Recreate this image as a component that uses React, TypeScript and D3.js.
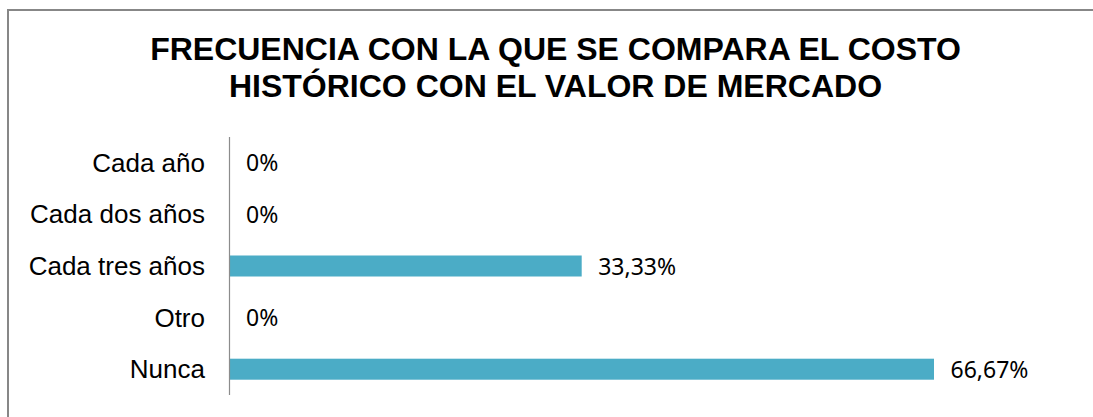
import React from 'react';
import * as d3 from 'd3';

const categories = ['Cada año', 'Cada dos años', 'Cada tres años', 'Otro', 'Nunca'];
const values = [0, 0, 33.33, 0, 66.67];
const valueLabels = ['0%', '0%', '33,33%', '0%', '66,67%'];
const titleLines = ['FRECUENCIA CON LA QUE SE COMPARA EL COSTO', 'HISTÓRICO CON EL VALOR DE MERCADO'];

const width = 1093;
const height = 417;

export default function App() {
    const x = d3.scaleLinear().domain([0, 66.67]).range([229.5, 934]);
    const y = d3.scaleBand<string>()
        .domain(categories)
        .range([137, 395])
        .paddingInner(0.59)
        .paddingOuter(0.295);

    return (
        <svg width={width} height={height} style={{ position: 'absolute', left: 0, top: 0, background: '#fff' }}>
            {/* chart frame, only top and left edges are visible */}
            <rect x={8} y={10} width={1200} height={600} fill="#fff" stroke="#878787" strokeWidth={2} />

            {titleLines.map((t, i) => (
                <text key={t} x={555.5} y={60 + i * 37} textAnchor="middle"
                    fontFamily="'Liberation Sans', Arial, sans-serif" fontWeight="bold" fontSize={32} fill="#000">
                    {t}
                </text>
            ))}

            {values.map((v, i) => (
                <rect key={categories[i]} x={x(0)} y={y(categories[i])! + (y.bandwidth() - 21) / 2}
                    width={x(v) - x(0)} height={21} fill="#4BACC6" />
            ))}

            <line x1={229.5} x2={229.5} y1={137} y2={395} stroke="#8c8c8c" strokeWidth={1.2} />

            {categories.map(c => (
                <text key={c} x={205} y={y(c)! + y.bandwidth() / 2 + 9} textAnchor="end"
                    fontFamily="'Liberation Sans', Arial, sans-serif" fontSize={26} fill="#000">
                    {c}
                </text>
            ))}

            {values.map((v, i) => (
                <text key={'l' + i} x={x(v) + 16.5} y={y(categories[i])! + y.bandwidth() / 2 + 8.5}
                    fontFamily="'Noto Sans', 'Open Sans', sans-serif" fontSize={23} fill="#000">
                    {valueLabels[i]}
                </text>
            ))}
        </svg>
    );
}
